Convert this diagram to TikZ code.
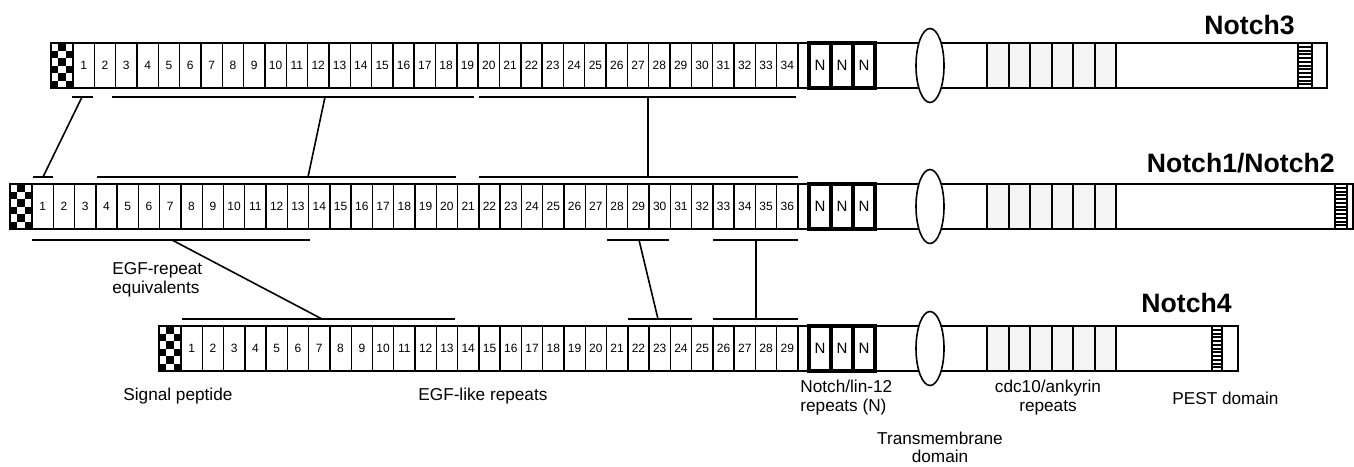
\documentclass[tikz,border=0pt]{standalone}
\usepackage{fontspec}
\setmainfont{Liberation Sans}
\usetikzlibrary{shapes.geometric}

\begin{document}
\begin{tikzpicture}[x=0.5pt,y=-0.5pt,
  barline/.style={draw,line width=1pt},
  egfbox/.style={draw,line width=0.7pt},
  nbox/.style={draw,line width=1.6pt},
  ankbox/.style={draw,fill=black!4,line width=1pt},
  spanline/.style={line width=1pt},
  linkline/.style={line width=0.8pt},
  num/.style={font=\fontsize{6}{6}\selectfont,inner sep=0pt},
  nlet/.style={font=\fontsize{7.5}{8}\selectfont,inner sep=0pt},
  lbl/.style={font=\fontsize{8.6}{9.3}\selectfont,inner sep=0pt},
  protname/.style={font=\fontsize{13.3}{15}\selectfont\bfseries,inner sep=0pt}]
\useasboundingbox (0,0) rectangle (1354,466);
% the three proteins
\foreach \nm/\ya/\xs/\cnt/\hsa/\hsb/\xe in {n3/43/51/34/1298/1312/1327,
    n1/184/10/36/1335/1347/1353, n4/326/159/29/1212/1222/1238} {
  \pgfmathsetmacro{\bw}{(776-\xs)/\cnt}
  \pgfmathsetmacro{\ym}{\ya+22.5}
  % signal peptide
  \foreach \c/\r in {1/0,0/1,2/1,1/2,0/3,2/3,1/4,0/5,2/5}
    \fill ({\xs+\c*22/3},{\ya+\r*7.5}) rectangle ++(22/3,7.5);
  % EGF-like repeats
  \foreach \i in {1,...,\cnt} {
    \draw[egfbox] ({\xs+22+(\i-1)*\bw},\ya) rectangle ++(\bw,45);
    \node[num] (\nm-e\i) at ({\xs+22+(\i-0.5)*\bw},\ym) {\i};
  }
  \draw[egfbox] (798,\ya) rectangle (809,{\ya+45});
  % Notch/lin-12 repeats
  \foreach \k in {0,1,2} {
    \draw[nbox] ({809+\k*22},\ya) rectangle ++(22,45);
    \node[nlet] (\nm-n\k) at ({820+\k*22},\ym) {N};
  }
  % cdc10/ankyrin repeats
  \foreach \k in {0,...,5}
    \draw[ankbox] ({987+\k*21.5},\ya) rectangle ++(21.5,45);
  % PEST domain
  \foreach \k in {1,...,11}
    \draw[line width=1pt] (\hsa,{\ya+\k*3.75}) -- (\hsb,{\ya+\k*3.75});
  \draw[barline] (\hsa,\ya) -- (\hsa,{\ya+45}) (\hsb,\ya) -- (\hsb,{\ya+45});
  \draw[barline] (\xs,\ya) rectangle (\xe,{\ya+45});
  % transmembrane domain
  \node[draw,ellipse,fill=white,line width=0.8pt,minimum width=14pt,
    minimum height=37pt,inner sep=0pt] (\nm-tm) at (930,\ym) {};
}
% matching regions
\foreach \nm/\xa/\xb/\yy in {s3a/72/93/97, s3b/112/474/97, s3c/479/796/97,
    s1a/33/53/177, s1b/97/456/177, s1c/479/798/177,
    s1d/32/310/240, s1e/607/669/240, s1f/713/798/240,
    s4a/182/455/319, s4b/628/692/319, s4c/713/798/319} {
  \coordinate (\nm-l) at (\xa,\yy);
  \coordinate (\nm-r) at (\xb,\yy);
  \draw[spanline] (\nm-l) -- (\nm-r);
}
\foreach \a/\xa/\ya/\b/\xb/\yb in {la/82/97/lb/43/177, lc/325/97/ld/308/177,
    le/648/97/lf/648/177, lg/172/240/lh/322/319, li/639/240/lj/658/319,
    lk/756/240/ll/756/319} {
  \coordinate (\a) at (\xa,\ya);
  \coordinate (\b) at (\xb,\yb);
  \draw[linkline] (\a) -- (\b);
}
% labels
\node[protname,anchor=north east] (t3) at (1295,15) {Notch3};
\node[protname,anchor=north east] (t1) at (1335,153) {Notch1/Notch2};
\node[protname,anchor=north east] (t4) at (1232,293) {Notch4};
\node[lbl,anchor=north west,align=left] (equiv) at (112,262) {EGF-repeat\\equivalents};
\node[lbl,anchor=north west] (sigp) at (123,388) {Signal peptide};
\node[lbl,anchor=north west] (egfr) at (418,388) {EGF-like repeats};
\node[lbl,anchor=north west,align=left] (linr) at (800,380) {Notch/lin-12\\repeats (N)};
\node[lbl,anchor=north,align=center,font=\fontsize{8.6}{8.6}\selectfont] (tmd) at (940,432) {Transmembrane\\domain};
\node[lbl,anchor=north,align=center] (ankr) at (1048,380) {cdc10/ankyrin\\repeats};
\node[lbl,anchor=north west] (pest) at (1172,392) {PEST domain};
\end{tikzpicture}
\end{document}
